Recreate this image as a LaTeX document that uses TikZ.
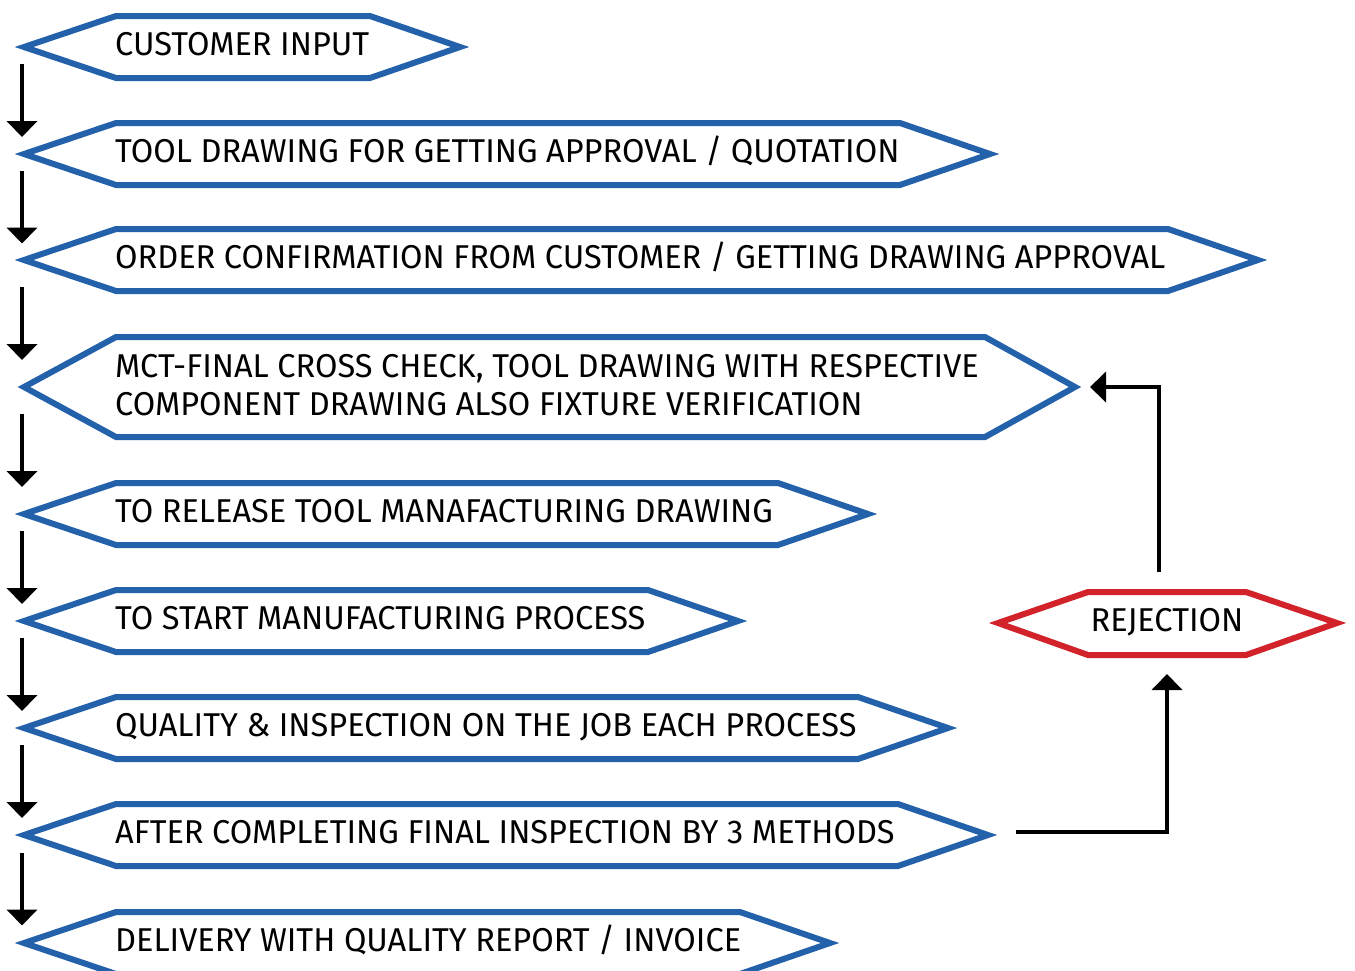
\documentclass[tikz,border=0pt]{standalone}
\usepackage{fontspec}
\setmainfont[FakeStretch=0.985]{Fira Sans}
\usetikzlibrary{arrows.meta,calc}
\definecolor{hexblue}{HTML}{2361AB}
\definecolor{hexred}{HTML}{D2222A}

\tikzset{
    hexline/.style = {draw=hexblue, line width=6pt, line join=miter},
    rejline/.style = {draw=hexred, line width=6pt, line join=miter},
    lbl/.style = {inner sep=0pt, text height=23pt, text depth=0pt, align=left,
                  font=\fontsize{33}{38}\selectfont},
    arr/.style = {line width=4.5pt, -{Triangle[length=16pt,width=30pt]}}
}

% hexagon: [node options] name, ymid, half height, right corner, text
\newcommand{\hexa}[6][]{%
    \draw[hexline] (24,#3) -- (116,#3-#4) -- (#5,#3-#4) -- (#5+90,#3)
        -- (#5,#3+#4) -- (116,#3+#4) -- cycle;
    \node[lbl, anchor=west, #1] (#2) at (115,#3-3) {#6};
    \coordinate (#2-l) at (22,#3);
    \coordinate (#2-r) at (#5+90,#3);
}

\begin{document}
\begin{tikzpicture}[x=1pt, y=-1pt]
\useasboundingbox (0,0) rectangle (1355,970);

% etapas
\hexa{h1}{47}{31}{370}{CUSTOMER INPUT}
\hexa{h2}{154}{31}{900}{TOOL DRAWING FOR GETTING APPROVAL / QUOTATION}
\hexa{h3}{260}{31}{1168}{ORDER CONFIRMATION FROM CUSTOMER / GETTING DRAWING APPROVAL}
\hexa[yshift=-20pt]{h4}{387}{50}{985}{MCT-FINAL CROSS CHECK, TOOL DRAWING WITH RESPECTIVE\\COMPONENT DRAWING ALSO FIXTURE VERIFICATION}
\hexa{h5}{514}{31}{778}{TO RELEASE TOOL MANAFACTURING DRAWING}
\hexa{h6}{621}{31}{648}{TO START MANUFACTURING PROCESS}
\hexa{h7}{728}{31}{858}{QUALITY \& INSPECTION ON THE JOB EACH PROCESS}
\hexa{h8}{835}{31}{898}{AFTER COMPLETING FINAL INSPECTION BY 3 METHODS}
\hexa{h9}{943}{31}{740}{DELIVERY WITH QUALITY REPORT / INVOICE}

% rejeicao
\draw[rejline] (998,623) -- (1088,592) -- (1246,592) -- (1337,623)
    -- (1246,655) -- (1088,655) -- cycle;
\node[lbl] (rej) at (1167,620) {REJECTION};
\coordinate (rej-t) at (1159,592);
\coordinate (rej-b) at (1167,655);

% setas
\foreach \a/\b in {h1/h2, h2/h3, h3/h4, h4/h5, h5/h6, h6/h7, h7/h8, h8/h9}
    \draw[arr] ($(\a-l)!.5!(\b-l)+(0,-36.5)$) -- ++(0,73);

\draw[arr, shorten <=20pt, shorten >=15pt] (rej-t) |- (h4-r);
\draw[arr, shorten >=19pt] ([xshift=28pt,yshift=3pt]h8-r) -| (rej-b);
\end{tikzpicture}
\end{document}
